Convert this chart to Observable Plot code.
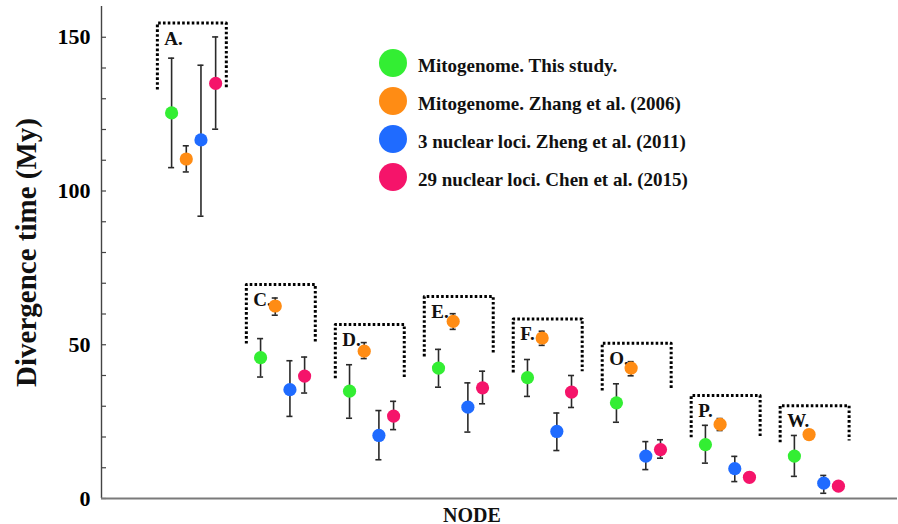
<!DOCTYPE html>
<html>
<head>
<meta charset="utf-8">
<script src="https://cdn.jsdelivr.net/npm/d3@7"></script>
<script src="https://cdn.jsdelivr.net/npm/@observablehq/plot@0.6"></script>
<style>
  body { margin: 0; background: #fff; }
  #wrap { position: relative; width: 898px; height: 524px; }
  #wrap svg text { font-family: "Liberation Serif", serif; font-weight: bold; }
  .legend { position: absolute; left: 379px; top: 44px; font-family: "Liberation Serif", serif; font-weight: bold; font-size: 19px; color: #111; }
  .legend .row { display: flex; align-items: center; height: 38px; }
  .legend .sw { width: 28px; height: 28px; border-radius: 50%; margin-right: 11px; }
  .legend .lab { position: relative; top: 3px; white-space: nowrap; }
</style>
</head>
<body>
<div id="wrap"></div>
<script>
const nodes = ["A", "C", "D", "E", "F", "O", "P", "W"];
const seriesNames = [
  "Mitogenome. This study.",
  "Mitogenome. Zhang et al. (2006)",
  "3 nuclear loci. Zheng et al. (2011)",
  "29 nuclear loci. Chen et al. (2015)"
];
const seriesColors = ["#33ee33", "#ff8c14", "#1f6bff", "#f5146a"];

const greenMean = [125.4, 45.8, 34.9, 42.4, 39.3, 31.1, 17.5, 13.8];
const greenLo   = [107.6, 39.5, 26.1, 36.2, 33.2, 24.8, 11.5, 7.2];
const greenHi   = [143.2, 52.0, 43.5, 48.5, 45.2, 37.3, 23.8, 20.5];

const orangeMean = [110.4, 62.6, 47.9, 57.6, 52.2, 42.4, 24.1, 20.8];
const orangeLo   = [106.2, 59.6, 45.5, 55.0, 49.8, 39.9, 22.1, 19.8];
const orangeHi   = [114.7, 65.2, 50.7, 60.1, 54.4, 44.5, 26.0, 21.8];

const blueMean = [116.6, 35.4, 20.5, 29.7, 21.8, 13.8, 9.7, 5.0];
const blueLo   = [91.8, 26.7, 12.6, 21.6, 15.6, 9.4, 5.5, 1.7];
const blueHi   = [140.9, 44.8, 28.6, 37.6, 27.8, 18.5, 13.7, 7.5];

const pinkMean = [135.0, 39.8, 26.8, 36.0, 34.6, 15.9, 6.9, 4.0];
const pinkLo   = [120.1, 34.3, 22.4, 30.8, 29.6, 13.1, 5.6, 3.5];
const pinkHi   = [150.1, 46.0, 31.6, 41.4, 40.0, 19.1, 8.4, 4.5];

// dotted bracket heights (My) around each node's label
const bracketTop     = [154.6, 69.6, 56.6, 65.7, 58.4, 50.5, 33.5, 30.2];
const bracketBottomL = [133.0, 50.4, 39.1, 46.2, 41.0, 35.1, 19.9, 18.3];
const bracketBottomR = [133.3, 50.4, 39.1, 46.8, 41.4, 35.5, 19.9, 18.9];

const yTickLabels = [0, 50, 100, 150];

const means = [greenMean, orangeMean, blueMean, pinkMean];
const los = [greenLo, orangeLo, blueLo, pinkLo];
const his = [greenHi, orangeHi, blueHi, pinkHi];

const step = 0.165;   // within-node series spacing (node units)
const cap = 0.034;    // error-bar cap half width
const rows = [];
nodes.forEach((n, i) => {
  seriesNames.forEach((s, k) => {
    const x = i + k * step;
    rows.push({node: n, series: s, x, y: means[k][i], lo: los[k][i], hi: his[k][i], x1: x - cap, x2: x + cap});
  });
});

const bracketPts = [];
nodes.forEach((n, i) => {
  const l = i - 0.16, r = i + 0.615;
  bracketPts.push({node: n, x: l, y: bracketBottomL[i]});
  bracketPts.push({node: n, x: l, y: bracketTop[i]});
  bracketPts.push({node: n, x: r, y: bracketTop[i]});
  bracketPts.push({node: n, x: r, y: bracketBottomR[i]});
});
const labels = nodes.map((n, i) => ({label: n + ".", x: i - 0.16, y: bracketTop[i]}));

const chart = Plot.plot({
  width: 898,
  height: 524,
  marginLeft: 101,
  marginRight: 1,
  marginTop: 6,
  marginBottom: 26,
  x: {domain: [-0.788, 8.159], axis: null},
  y: {domain: [0, 160], axis: null},
  color: {domain: seriesNames, range: seriesColors},
  marks: [
    Plot.axisY({ticks: d3.range(0, 160, 10), tickSize: -5, tickFormat: () => "", stroke: "#444", strokeWidth: 1.2}),
    Plot.axisY({ticks: yTickLabels, tickSize: 0, tickPadding: 11, fontSize: 22, tickFormat: d => String(d)}),
    Plot.ruleX([0], {x: () => -0.788, stroke: "#444", strokeWidth: 1.4}),
    Plot.ruleY([0], {stroke: "#7a7a7a", strokeWidth: 2.2}),
    Plot.line(bracketPts, {x: "x", y: "y", z: "node", stroke: "#000", strokeWidth: 3, strokeDasharray: "2.6 2.2", strokeLinecap: "butt", curve: "linear"}),
    Plot.text(labels, {x: "x", y: "y", text: "label", textAnchor: "start", lineAnchor: "top", dx: 7, dy: 8, fontSize: 19, fill: "#111"}),
    Plot.ruleX(rows, {x: "x", y1: "lo", y2: "hi", stroke: "#2a2a2a", strokeWidth: 1.6}),
    Plot.ruleY(rows, {y: "lo", x1: "x1", x2: "x2", stroke: "#2a2a2a", strokeWidth: 1.6}),
    Plot.ruleY(rows, {y: "hi", x1: "x1", x2: "x2", stroke: "#2a2a2a", strokeWidth: 1.6}),
    Plot.dot(rows, {x: "x", y: "y", r: 6.6, fill: "series", stroke: "none"}),
    Plot.text(["Divergence time (My)"], {frameAnchor: "left", rotate: -90, dx: -75, textAnchor: "middle", lineAnchor: "middle", fontSize: 29, fill: "#111"}),
    Plot.text(["NODE"], {frameAnchor: "bottom", dx: -27.5, dy: 16.6, textAnchor: "middle", lineAnchor: "middle", fontSize: 20, fill: "#111"})
  ]
});

const wrap = document.getElementById("wrap");
wrap.appendChild(chart);

const legend = document.createElement("div");
legend.className = "legend";
seriesNames.forEach((s, k) => {
  const row = document.createElement("div");
  row.className = "row";
  const sw = document.createElement("div");
  sw.className = "sw";
  sw.style.background = seriesColors[k];
  const lab = document.createElement("span");
  lab.className = "lab";
  lab.textContent = s;
  row.appendChild(sw);
  row.appendChild(lab);
  legend.appendChild(row);
});
wrap.appendChild(legend);
</script>
</body>
</html>
